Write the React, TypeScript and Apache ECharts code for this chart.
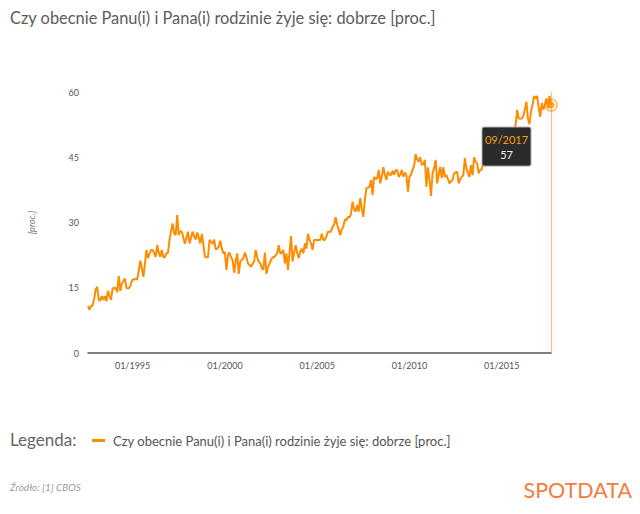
import React, { useEffect, useRef } from "react";
import * as echarts from "echarts";

const TITLE = "Czy obecnie Panu(i) i Pana(i) rodzinie żyje się: dobrze [proc.]";
const SERIES_NAME = "Czy obecnie Panu(i) i Pana(i) rodzinie żyje się: dobrze [proc.]";
const SOURCE = "Źródło: [1] CBOS";

const START_YEAR = 1992;
const START_MONTH = 8;

// 08/1992 – 12/1999
const values1990s = [
  10.8, 9.9, 10.8, 10.9, 12.5,
  14.6, 15.2, 12.2, 12.0, 13.1, 12.2, 13.1, 11.9, 14.3, 13.1, 12.2, 14.9,
  14.9, 15.0, 14.0, 17.7, 14.3, 16.0, 16.5, 17.1, 14.9, 14.9, 15.0, 16.0,
  16.9, 16.9, 17.0, 16.9, 19.0, 21.2, 19.5, 17.5, 20.5, 23.7, 21.8, 22.8,
  23.7, 23.7, 23.0, 22.1, 24.8, 23.0, 22.1, 23.7, 22.0, 22.0, 22.9, 23.0,
  26.0, 28.0, 29.8, 27.5, 27.1, 31.7, 27.1, 28.0, 27.9, 26.5, 25.1, 26.5,
  27.9, 25.2, 26.5, 27.9, 26.8, 26.1, 27.7, 26.5, 25.2, 27.4, 25.0, 22.1,
  22.0, 22.0, 26.0, 25.5, 25.1, 26.1, 23.8, 24.0, 24.4, 25.8, 24.0, 22.9,
];

// 01/2000 – 12/2009
const values2000s = [
  23.2, 19.1, 22.5, 23.1, 22.0, 21.4, 18.5, 21.0, 22.9, 18.2, 21.0, 21.5,
  21.8, 23.1, 22.0, 20.6, 20.2, 19.8, 20.5, 21.0, 23.7, 22.0, 21.0, 20.6,
  19.5, 19.1, 23.1, 18.2, 19.8, 20.5, 21.4, 22.0, 22.0, 22.5, 22.9, 24.8,
  22.9, 23.0, 23.7, 20.6, 22.9, 19.1, 23.0, 26.9, 21.0, 23.0, 24.8, 23.0,
  21.8, 23.3, 24.0, 22.9, 25.2, 24.0, 27.4, 26.0, 25.2, 23.7, 26.0, 26.0,
  26.0, 26.0, 26.0, 27.4, 26.0, 26.0, 26.8, 27.9, 27.9, 27.9, 29.0, 29.5,
  31.2, 29.5, 28.3, 27.1, 28.5, 29.0, 30.7, 30.5, 31.3, 31.2, 32.0, 34.8,
  33.0, 32.5, 34.0, 32.5, 35.6, 33.0, 31.3, 35.2, 37.9, 38.0, 38.2, 39.8,
  36.3, 40.5, 40.0, 40.2, 42.1, 39.0, 40.5, 42.7, 41.0, 39.8, 41.7, 41.0,
  40.9, 41.9, 41.0, 42.0, 42.1, 40.5, 41.0, 42.1, 40.5, 41.5, 40.9, 37.1,
];

// 01/2010 – 09/2017
const values2010s = [
  40.5, 41.0, 42.1, 43.0, 45.7, 44.5, 44.0, 45.0, 43.2, 43.5, 44.4, 38.2,
  42.7, 39.8, 36.1, 41.3, 42.5, 44.4, 39.0, 41.0, 42.8, 40.2, 42.7, 40.5,
  40.9, 40.0, 39.0, 39.5, 39.8, 41.3, 41.5, 41.7, 39.0, 40.0, 40.5, 40.9,
  44.8, 42.5, 41.3, 40.5, 43.2, 40.9, 45.0, 44.0, 43.6, 41.3, 42.1, 42.2,
  44.0, 43.0, 45.0, 44.0, 46.0, 45.0, 47.0, 46.0, 48.0, 47.0, 49.0, 48.0,
  50.0, 49.0, 51.0, 50.0, 51.0, 49.5, 51.0, 50.5, 51.5, 52.4, 55.9, 53.9,
  53.9, 53.9, 54.5, 55.9, 57.8, 53.9, 52.6, 55.5, 57.0, 59.1, 58.5, 59.1,
  56.3, 54.3, 57.5, 56.0, 57.0, 58.5, 56.3, 59.1, 57.0,
];

const yTicks = [0, 15, 30, 45, 60];
const labelYears = [1995, 2000, 2005, 2010, 2015];

const values = [...values1990s, ...values2000s, ...values2010s];

const categories: string[] = values.map((_, i) => {
  const t = START_MONTH - 1 + i;
  const y = START_YEAR + Math.floor(t / 12);
  const m = (t % 12) + 1;
  return (m < 10 ? "0" : "") + m + "/" + y;
});

const ORANGE = "#ff8c00";
const FONT = "Lato, 'Noto Sans', sans-serif";

export default function App() {
  const ref = useRef<HTMLDivElement>(null);

  useEffect(() => {
    document.body.style.margin = "0";
    if (!ref.current) return;
    const chart = echarts.init(ref.current, null, { renderer: "svg" });
    const lastIdx = values.length - 1;
    const lastCat = categories[lastIdx];
    const lastVal = values[lastIdx];

    chart.setOption({
      animation: false,
      textStyle: { fontFamily: FONT },
      title: {
        text: TITLE,
        left: 10,
        top: 9,
        padding: 0,
        textStyle: { fontSize: 16.4, fontWeight: "normal", color: "#5c5c5c", fontFamily: FONT },
      },
      legend: {
        left: 92,
        top: 434,
        padding: 0,
        icon: "rect",
        itemWidth: 13,
        itemHeight: 3,
        data: [{ name: SERIES_NAME, itemStyle: { color: ORANGE } }],
        textStyle: { fontSize: 13, color: "#555", fontFamily: FONT, padding: [0, 0, 0, 3] },
      },
      grid: { left: 88, right: 89, top: 92, bottom: 161, outerBoundsMode: "none" },
      xAxis: {
        type: "category",
        data: categories,
        boundaryGap: false,
        axisLine: { show: true, lineStyle: { color: "#555", width: 1.5 } },
        axisTick: { show: false },
        splitLine: { show: false },
        axisLabel: {
          interval: (index: number, value: string) =>
            value.startsWith("01/") && labelYears.includes(Number(value.slice(3))),
          color: "#555",
          fontSize: 9,
          margin: 8,
          fontFamily: FONT,
        },
      },
      yAxis: {
        type: "value",
        min: yTicks[0],
        max: yTicks[yTicks.length - 1],
        interval: 15,
        name: "[proc.]",
        nameLocation: "middle",
        nameGap: 52,
        nameRotate: 90,
        nameTextStyle: { fontStyle: "italic", fontSize: 9, color: "#777", fontFamily: FONT },
        axisLine: { show: false },
        axisTick: { show: false },
        splitLine: { show: false },
        axisLabel: { color: "#555", fontSize: 9, margin: 9, fontFamily: FONT },
      },
      series: [
        {
          name: SERIES_NAME,
          type: "line",
          data: values,
          showSymbol: false,
          symbol: "none",
          lineStyle: { color: ORANGE, width: 2 },
          itemStyle: { color: ORANGE },
          markLine: {
            silent: true,
            symbol: "none",
            label: { show: false },
            lineStyle: { color: "rgba(255,140,0,0.55)", width: 1.2, type: "solid" },
            data: [{ xAxis: lastCat }],
          },
        },
        {
          name: "ring",
          type: "scatter",
          data: [[lastCat, lastVal]],
          symbolSize: 12,
          itemStyle: { color: "rgba(255,255,255,0)", borderColor: "rgba(255,140,0,0.75)", borderWidth: 1.5 },
          silent: true,
          z: 5,
        },
        {
          name: "dot",
          type: "scatter",
          data: [[lastCat, lastVal]],
          symbolSize: 7,
          itemStyle: { color: ORANGE },
          silent: true,
          z: 6,
        },
      ],
    });

    const p = chart.convertToPixel({ xAxisIndex: 0, yAxisIndex: 0 }, [lastCat, lastVal]) as number[];
    const bx = p[0] - 69;
    const by = p[1] + 22;

    chart.setOption({
      graphic: [
        {
          type: "text",
          left: 10,
          top: 431,
          style: { text: "Legenda:", fontSize: 17, fill: "#666", fontFamily: FONT },
        },
        {
          type: "text",
          left: 10,
          top: 482,
          style: { text: SOURCE, fontSize: 10, fontStyle: "italic", fill: "#999", fontFamily: FONT },
        },
        {
          type: "text",
          right: 8,
          top: 479,
          style: { text: "SPOTDATA", fontSize: 21.5, fill: "#f47c3c", fontFamily: FONT },
        },
        {
          type: "rect",
          x: bx,
          y: by,
          z: 100,
          zlevel: 0,
          shape: { x: 0, y: 0, width: 49, height: 39, r: 2 },
          style: { fill: "rgb(43,43,43)", stroke: "#aaa", lineWidth: 1 },
        },
        {
          type: "text",
          x: bx + 24.5,
          y: by + 12,
          z: 101,
          style: {
            text: lastCat,
            fontSize: 11,
            fill: "#f39c12",
            align: "center",
            verticalAlign: "middle",
            fontFamily: FONT,
          },
        },
        {
          type: "text",
          x: bx + 24.5,
          y: by + 27,
          z: 101,
          style: {
            text: String(Math.round(lastVal)),
            fontSize: 11,
            fill: "#eee",
            align: "center",
            verticalAlign: "middle",
            fontFamily: FONT,
          },
        },
      ],
    });

    return () => chart.dispose();
  }, []);

  return <div ref={ref} style={{ width: 640, height: 514 }} />;
}
